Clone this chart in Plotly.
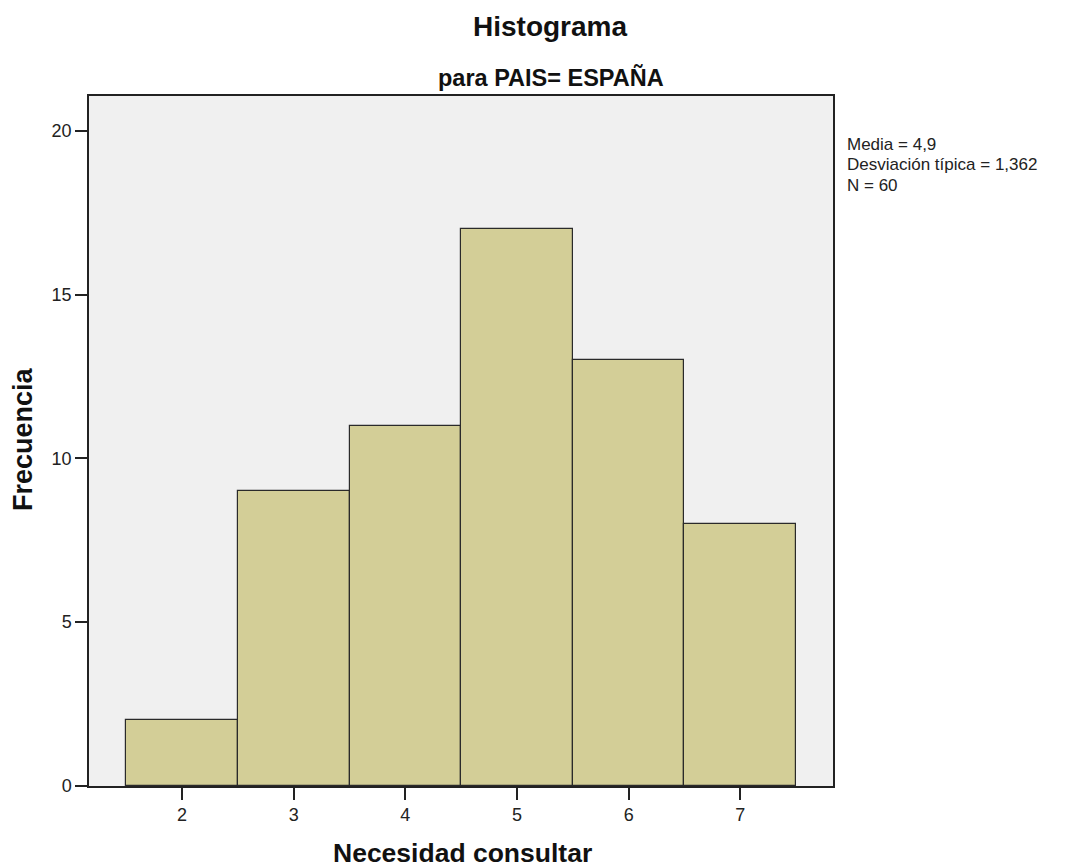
import plotly.graph_objects as go

categories = [2, 3, 4, 5, 6, 7]
frecuencia = [2, 9, 11, 17, 13, 8]
y_ticks = [0, 5, 10, 15, 20]
stats_lines = ["Media = 4,9", "Desviación típica = 1,362", "N = 60"]

FONT = "Liberation Sans, Arial, sans-serif"

# plot area in screen pixels (page body has an 8px margin)
PX0, PX1, PY0, PY1 = 89, 833, 96, 786


def px(sx):
    return (sx - PX0) / (PX1 - PX0)


def py(sy):
    return (PY1 - sy) / (PY1 - PY0)


fig = go.Figure()
fig.add_trace(go.Bar(
    x=categories, y=frecuencia, width=1,
    marker=dict(color="#d3ce97", line=dict(color="#2a2a2a", width=1.2)),
    showlegend=False,
))

fig.update_layout(
    width=1066, height=859,
    margin=dict(l=PX0 - 8, r=1066 - (PX1 - 8), t=PY0 - 8, b=859 - (PY1 - 8)),
    paper_bgcolor="white", plot_bgcolor="#f0f0f0",
    font=dict(family=FONT, color="#222222", size=18),
    bargap=0,
)

# titles
fig.add_annotation(
    text="<b>Histograma</b>", xref="paper", yref="paper",
    x=px(550), y=py(26), xanchor="center", yanchor="middle", showarrow=False,
    font=dict(size=28, family=FONT, color="#111111"),
)
fig.add_annotation(
    text="<b>para PAIS= ESPAÑA</b>", xref="paper", yref="paper",
    x=px(551), y=py(77), xanchor="center", yanchor="middle", showarrow=False,
    font=dict(size=23.5, family=FONT, color="#111111"),
)
# axis titles
fig.add_annotation(
    text="<b>Necesidad consultar</b>", xref="paper", yref="paper",
    x=px(462), y=py(853), xanchor="center", yanchor="middle", showarrow=False,
    font=dict(size=26.5, family=FONT, color="#111111"),
)
fig.add_annotation(
    text="<b>Frecuencia</b>", xref="paper", yref="paper", textangle=-90,
    x=px(23), y=py(439), xanchor="center", yanchor="middle", showarrow=False,
    font=dict(size=27, family=FONT, color="#111111"),
)
# statistics box
for line, cy in zip(stats_lines, [144, 164.5, 185]):
    fig.add_annotation(
        text=line, xref="paper", yref="paper",
        x=px(845), y=py(cy), xanchor="left", yanchor="middle",
        align="left", showarrow=False,
        font=dict(size=17, family=FONT, color="#222222"),
    )

fig.update_xaxes(
    range=[1.167, 7.83], tickvals=categories, ticks="outside", ticklen=12,
    tickcolor="#222222", tickwidth=1.5, showgrid=False, zeroline=False,
    showline=True, linecolor="#222222", linewidth=1.5, mirror=True,
    tickfont=dict(size=18, family=FONT),
)
fig.update_yaxes(
    range=[0, 21.06], tickvals=y_ticks, ticks="outside", ticklen=12,
    tickcolor="#222222", tickwidth=1.5, showgrid=False, zeroline=False,
    showline=True, linecolor="#222222", linewidth=1.5, mirror=True,
    tickfont=dict(size=18, family=FONT),
)

fig.write_html("out.html")
